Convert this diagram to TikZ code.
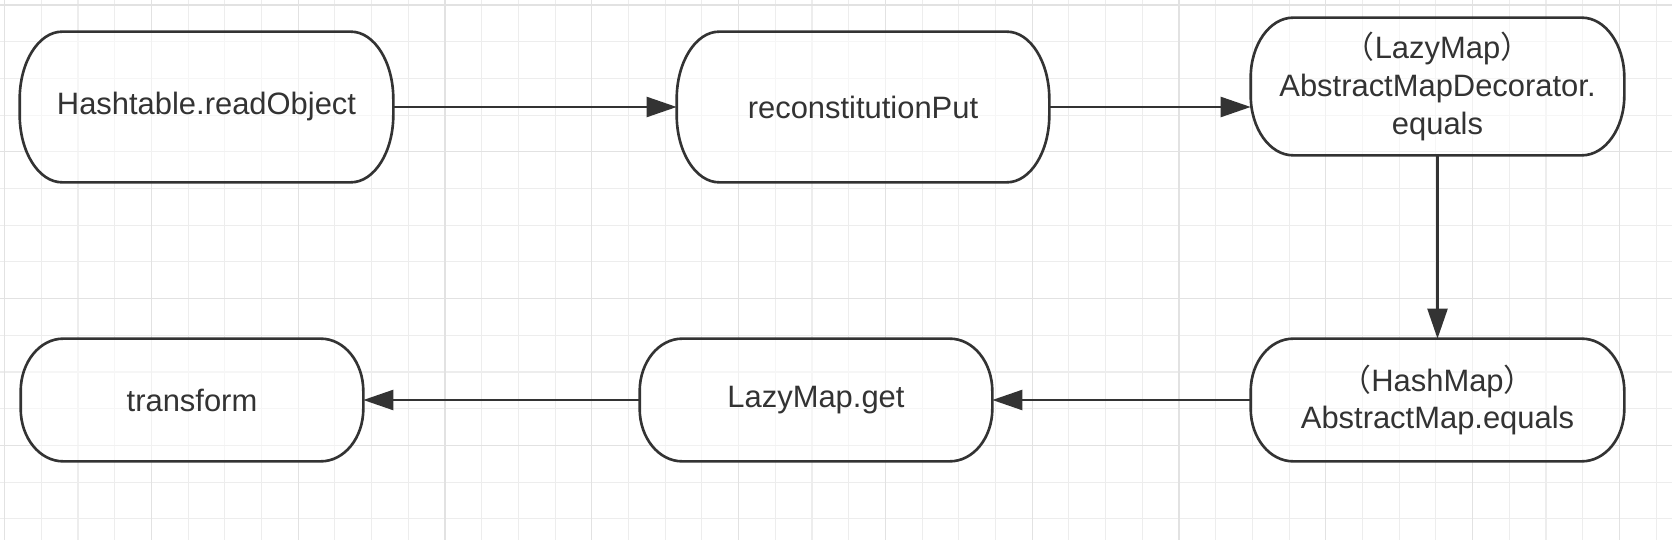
\documentclass[tikz,border=0pt]{standalone}
\usepackage{fontspec}
\setmainfont{Liberation Sans}
\newfontfamily\cjk{Noto Sans CJK SC}
\usepackage{xcolor}
\usetikzlibrary{arrows.meta,positioning,backgrounds}

\definecolor{ink}{HTML}{333333}
\definecolor{gridminor}{HTML}{EDEDED}
\definecolor{gridmajor}{HTML}{E2E2E2}

% contorno com cantos elipticos em volta de um no
\newcommand{\capsula}[2]{%
  \draw[boxline] ([xshift=0.85cm]#1.north west) -- ([xshift=-0.85cm]#1.north east)
    arc[start angle=90, end angle=0, x radius=0.85cm, y radius=#2]
    -- ([yshift=#2]#1.south east)
    arc[start angle=0, end angle=-90, x radius=0.85cm, y radius=#2]
    -- ([xshift=0.85cm]#1.south west)
    arc[start angle=270, end angle=180, x radius=0.85cm, y radius=#2]
    -- ([yshift=-#2]#1.north west)
    arc[start angle=180, end angle=90, x radius=0.85cm, y radius=#2]
    -- cycle;}

\begin{document}
\begin{tikzpicture}[
    x=0.02cm, y=-0.02cm,
    >={Triangle[length=0.6cm,width=0.4cm]},
    font=\fontsize{17.6}{21.5}\selectfont,
    every node/.style={text=ink},
    box/.style={align=center, inner sep=0pt},
    boxline/.style={draw=ink, line width=1.5pt, fill=white, fill opacity=0.55, draw opacity=1},
    flow/.style={->, draw=ink, line width=1.3pt},
    minorline/.style={draw=gridminor, line width=0.6pt},
    majorline/.style={draw=gridmajor, line width=0.7pt}
]
\useasboundingbox (0,0) rectangle (1672,540);

%------------------------------------------------
% Grade
%------------------------------------------------
\begin{pgfonlayer}{background}
\fill[white] (0,0) rectangle (1672,540);
\foreach \i in {0,...,45}
{
    \pgfmathsetmacro{\gx}{4.6+36.7*\i}
    \draw[minorline] (\gx,0) -- (\gx,540);
}
\foreach \j in {0,...,14}
{
    \pgfmathsetmacro{\gy}{5+36.7*\j}
    \draw[minorline] (0,\gy) -- (1672,\gy);
}
\foreach \i in {0,4,...,44}
{
    \pgfmathsetmacro{\gx}{4.6+36.7*\i}
    \draw[majorline] (\gx,0) -- (\gx,540);
}
\foreach \j in {0,4,...,12}
{
    \pgfmathsetmacro{\gy}{5+36.7*\j}
    \draw[majorline] (0,\gy) -- (1672,\gy);
}
\end{pgfonlayer}

%------------------------------------------------
% Chamadas
%------------------------------------------------
\node[box, minimum width=7.46cm, minimum height=3cm] (readobj) at (206.5,107)
    {Hashtable.readObject};
\node[box, minimum width=7.44cm, minimum height=3cm] (reput) at (863,107)
    {reconstitutionPut};
\node[box, minimum width=7.46cm, minimum height=2.74cm] (decorator) at (1437.5,86.5)
    {{\cjk （}LazyMap{\cjk ）}\\AbstractMapDecorator.\\equals};
\node[box, minimum width=7.46cm, minimum height=2.44cm] (mapequals) at (1437.5,400)
    {{\cjk （}HashMap{\cjk ）}\\AbstractMap.equals};
\node[box, minimum width=7.04cm, minimum height=2.44cm] (lazyget) at (816,400)
    {LazyMap.get};
\node[box, minimum width=6.84cm, minimum height=2.44cm] (transform) at (192,400)
    {transform};

\begin{pgfonlayer}{background}
\capsula{readobj}{1.35cm}
\capsula{reput}{1.35cm}
\capsula{decorator}{1.2cm}
\capsula{mapequals}{1.05cm}
\capsula{lazyget}{1.05cm}
\capsula{transform}{1.05cm}
\end{pgfonlayer}

%------------------------------------------------
% Setas
%------------------------------------------------

% readObject -> reconstitutionPut
\draw[flow] (readobj.east) -- (reput.west);

% reconstitutionPut -> LazyMap equals
\draw[flow] (reput.east) -- (reput.east -| decorator.west);

% LazyMap equals -> HashMap equals
\draw[flow] (decorator.south) -- (mapequals.north);

% HashMap equals -> LazyMap.get
\draw[flow] (mapequals.west) -- (lazyget.east);

% LazyMap.get -> transform
\draw[flow] (lazyget.west) -- (transform.east);

\end{tikzpicture}
\end{document}
